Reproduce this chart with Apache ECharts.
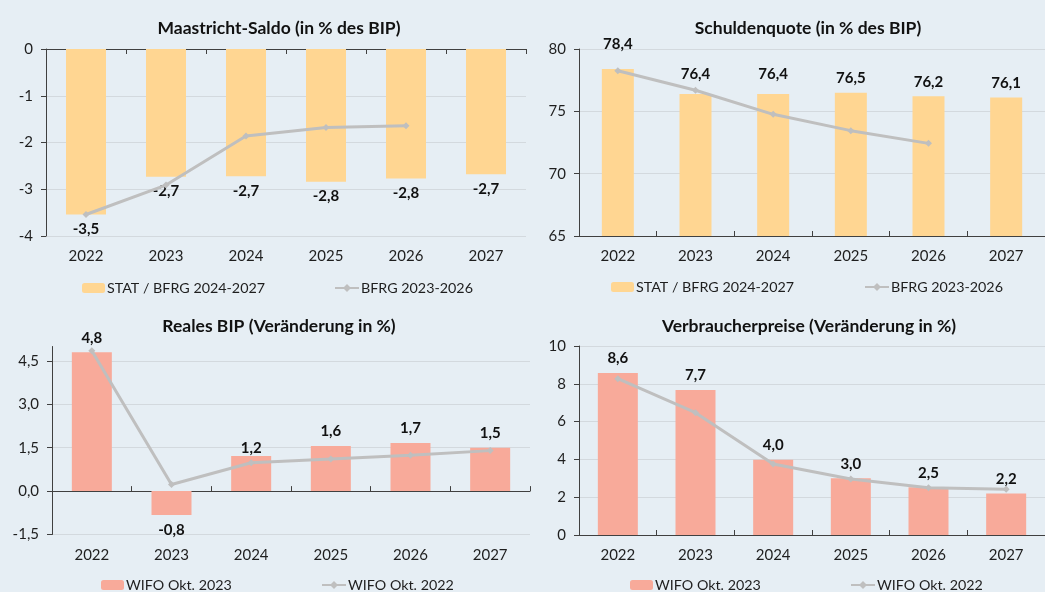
<!DOCTYPE html>
<html>
<head>
<meta charset="utf-8">
<title>Budget und Prognose</title>
<script src="https://cdn.jsdelivr.net/npm/echarts@6/dist/echarts.min.js"></script>
<style>
  html, body { margin: 0; padding: 0; background: #e6eef4; }
  #main { width: 1045px; height: 592px; }
</style>
</head>
<body>
<div id="main"></div>
<script>
// Jahre
var years = ['2022', '2023', '2024', '2025', '2026', '2027'];

// Maastricht-Saldo
var saldoStat = [-3.54, -2.73, -2.72, -2.84, -2.77, -2.68];
var saldoBfrg = [-3.54, -2.91, -1.86, -1.68, -1.64, null];
var saldoTicks = [-4, -3, -2, -1, 0];

// Schuldenquote
var quoteStat = [78.4, 76.4, 76.4, 76.5, 76.2, 76.1];
var quoteBfrg = [78.26, 76.69, 74.76, 73.45, 72.43, null];
var quoteTicks = [65, 70, 75, 80];

// Reales BIP
var bipOkt23 = [4.8, -0.83, 1.21, 1.56, 1.66, 1.5];
var bipOkt22 = [4.85, 0.23, 0.98, 1.11, 1.24, 1.40];
var bipTicks = [-1.5, 0, 1.5, 3, 4.5];

// Verbraucherpreise
var vpiOkt23 = [8.57, 7.67, 3.98, 3.0, 2.52, 2.2];
var vpiOkt22 = [8.27, 6.47, 3.76, 2.96, 2.50, 2.42];
var vpiTicks = [0, 2, 4, 6, 8, 10];

var FONT = 'Lato, sans-serif';
var TXT = '#1e1e1e';
var AXIS = '#404040';
var GRIDLINE = '#d3d9de';
var ORANGE = '#ffd692';
var SALMON = '#f8aa9a';
var GREY = '#bfbfbf';

function komma(v, d) {
  return v.toFixed(d).replace('.', ',');
}

// Balken mit Beschriftung oberhalb / unterhalb je nach Vorzeichen,
// einzelne Beschriftungen wie im Original verschoben (lift: Abstand je Index)
function barData(values, lift) {
  return values.map(function (v, i) {
    var lbl = { position: v < 0 ? 'bottom' : 'top' };
    if (lift && lift[i] !== undefined) lbl.distance = lift[i];
    return { value: v, label: lbl };
  });
}

function valueAxis(gridIndex, ticks, max, decimals) {
  var last = ticks[ticks.length - 1];
  return {
    type: 'value',
    gridIndex: gridIndex,
    min: ticks[0],
    max: max,
    interval: ticks[1] - ticks[0],
    axisLine: { show: true, lineStyle: { color: AXIS, width: 1 } },
    axisTick: { show: true, length: 5, lineStyle: { color: AXIS } },
    axisLabel: {
      color: TXT, fontFamily: FONT, fontSize: 15, margin: 13,
      showMaxLabel: max === last,
      formatter: function (v) { return komma(v, decimals); }
    },
    splitLine: { show: true, showMaxLine: max === last, lineStyle: { color: GRIDLINE, width: 1 } }
  };
}

// Achse mit Linie (auf Null) ohne Beschriftung
function lineAxis(gridIndex, tickInside) {
  return {
    type: 'category',
    gridIndex: gridIndex,
    data: years,
    position: 'bottom',
    axisLine: { show: true, onZero: true, lineStyle: { color: AXIS, width: 1 } },
    axisTick: { show: true, inside: tickInside, length: 5, lineStyle: { color: AXIS } },
    axisLabel: { show: false },
    splitLine: { show: false }
  };
}

// Beschriftungsachse unten
function labelAxis(gridIndex) {
  return {
    type: 'category',
    gridIndex: gridIndex,
    data: years,
    position: 'bottom',
    axisLine: { show: false, onZero: false },
    axisTick: { show: false },
    axisLabel: { color: TXT, fontFamily: FONT, fontSize: 15, margin: 13 },
    splitLine: { show: false }
  };
}

function fullAxis(gridIndex) {
  var a = lineAxis(gridIndex, true);
  a.axisLine.onZero = false;
  a.axisLabel = { show: true, color: TXT, fontFamily: FONT, fontSize: 15, margin: 13 };
  return a;
}

function barSeries(name, xi, yi, values, color, width, lift) {
  return {
    name: name,
    type: 'bar',
    xAxisIndex: xi,
    yAxisIndex: yi,
    barWidth: width,
    itemStyle: { color: color },
    label: {
      show: true,
      distance: 7,
      color: '#111',
      fontFamily: FONT,
      fontWeight: 'bold',
      fontSize: 15,
      formatter: function (p) { return komma(p.value, 1); }
    },
    data: barData(values, lift)
  };
}

function lineSeries(name, xi, yi, values) {
  return {
    name: name,
    type: 'line',
    xAxisIndex: xi,
    yAxisIndex: yi,
    symbol: 'diamond',
    symbolSize: 7,
    showAllSymbol: true,
    z: 3,
    itemStyle: { color: GREY },
    lineStyle: { color: GREY, width: 3 },
    data: values
  };
}

function legendAt(name, left, top, iconW) {
  return {
    data: [name],
    left: left,
    top: top,
    padding: 0,
    itemWidth: iconW,
    itemHeight: 10,
    selectedMode: false,
    textStyle: { color: TXT, fontFamily: FONT, fontSize: 14.3, padding: [0, 0, 0, -3] }
  };
}

function titleAt(text, x, top) {
  return {
    text: text,
    left: x,
    top: top,
    textAlign: 'center',
    textStyle: { color: '#111', fontFamily: FONT, fontWeight: 'bold', fontSize: 17.5 }
  };
}

var chart = echarts.init(document.getElementById('main'));

var option = {
  backgroundColor: '#e6eef4',
  animation: false,
  title: [
    titleAt('Maastricht-Saldo (in % des BIP)', 274, 14),
    titleAt('Schuldenquote (in % des BIP)', 803, 14),
    titleAt('Reales BIP (Veränderung in %)', 274, 312),
    titleAt('Verbraucherpreise (Veränderung in %)', 804, 312)
  ],
  legend: [
    legendAt('STAT / BFRG 2024-2027', 82, 281, 23),
    legendAt('BFRG 2023-2026', 334, 281, 24),
    legendAt('STAT / BFRG 2024-2027', 611, 280, 23),
    legendAt('BFRG 2023-2026', 864, 280, 24),
    legendAt('WIFO Okt. 2023', 101, 578, 23),
    legendAt('WIFO Okt. 2022', 321, 578, 24),
    legendAt('WIFO Okt. 2023', 630, 578, 23),
    legendAt('WIFO Okt. 2022', 850, 578, 24)
  ],
  grid: [
    { left: 46, top: 49, width: 480, height: 187 },
    { left: 579, top: 49, width: 476, height: 187 },
    { left: 52, top: 346.5, width: 478, height: 188 },
    { left: 579, top: 346, width: 476, height: 189 }
  ],
  xAxis: [
    lineAxis(0, false),
    labelAxis(0),
    fullAxis(1),
    lineAxis(2, true),
    labelAxis(2),
    fullAxis(3)
  ],
  yAxis: [
    valueAxis(0, saldoTicks, 0, 0),
    valueAxis(1, quoteTicks, 80, 0),
    valueAxis(2, bipTicks, 5, 1),
    valueAxis(3, vpiTicks, 10, 0)
  ],
  series: [
    barSeries('STAT / BFRG 2024-2027', 0, 0, saldoStat, ORANGE, 40),
    lineSeries('BFRG 2023-2026', 0, 0, saldoBfrg),
    barSeries('STAT / BFRG 2024-2027', 2, 1, quoteStat, ORANGE, 32, [17, 12, 12]),
    lineSeries('BFRG 2023-2026', 2, 1, quoteBfrg),
    barSeries('WIFO Okt. 2023', 3, 2, bipOkt23, SALMON, 40, [7, 8, 0]),
    lineSeries('WIFO Okt. 2022', 3, 2, bipOkt22),
    barSeries('WIFO Okt. 2023', 5, 3, vpiOkt23, SALMON, 40),
    lineSeries('WIFO Okt. 2022', 5, 3, vpiOkt22)
  ]
};

chart.setOption(option);
window.addEventListener('resize', function () {
  chart.resize();
});
</script>
</body>
</html>
